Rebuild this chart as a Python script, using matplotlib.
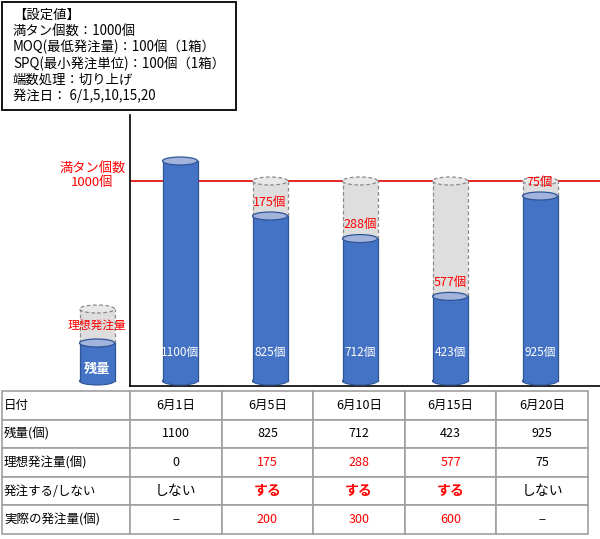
import numpy as np
import matplotlib
matplotlib.use("Agg")
import matplotlib.pyplot as plt
from matplotlib.patches import Rectangle, Ellipse

plt.rcParams['font.family'] = ['Noto Sans CJK JP', 'DejaVu Sans']

# ---- data ----
settings = ["【設定値】", "満タン個数：1000個", "MOQ(最低発注量)：100個（1箱）",
            "SPQ(最小発注単位)：100個（1箱）", "端数処理：切り上げ", "発注日： 6/1,5,10,15,20"]
dates = ["6月1日", "6月5日", "6月10日", "6月15日", "6月20日"]
stock = [1100, 825, 712, 423, 925]
ideal = [0, 175, 288, 577, 75]
order_flag = ["しない", "する", "する", "する", "しない"]
actual = ["−", "200", "300", "600", "−"]
row_labels = ["日付", "残量(個)", "理想発注量(個)", "発注する/しない", "実際の発注量(個)"]
FULL = 1000
legend_stock, legend_full = 190, 360   # schematic key cylinder

BLUE = "#4472C4"
BLUE_EDGE = "#2F5597"
BLUE_TOP = "#A2B4DC"
GRAY = "#DEDEDE"
GRAY_TOP = "#E8E8E8"
GRAY_EDGE = "#8A8A8A"
RED = "#FF0000"

W, H = 600, 539
fig = plt.figure(figsize=(W / 100, H / 100), dpi=100)


def px_axes(x, y, w, h):
    # axes placed by pixel box (top-left origin)
    return fig.add_axes([x / W, 1 - (y + h) / H, w / W, h / H])


# ---- settings box ----
fig.add_artist(Rectangle((2 / W, 1 - 110 / H), 234 / W, 108 / H, transform=fig.transFigure,
                         fill=False, edgecolor="black", linewidth=1.3))
for i, s in enumerate(settings):
    fig.text(13 / W, 1 - (15 + 16.2 * i) / H, s, fontsize=9.6, va="center", ha="left")

# ---- cylinder chart ----
ax = px_axes(130, 115, 470, 271)
ax.set_xlim(-50 / 90, 420 / 90)
ax.set_ylim(-25, 1330)
for sp in ["top", "right"]:
    ax.spines[sp].set_visible(False)
ax.spines["left"].set_linewidth(1.2)
ax.spines["bottom"].set_linewidth(1.2)
ax.set_xticks([])
ax.set_yticks([])
ax.patch.set_alpha(0)

cw = 35 / 90      # cylinder width (data units)
eh = 40           # ellipse height (data units)


def cylinder(x, y0, y1, face, edge, top, ls="-", z=3, bottom=True):
    ax.add_patch(Rectangle((x - cw / 2, y0), cw, y1 - y0, facecolor=face, edgecolor="none",
                           zorder=z, clip_on=False))
    if bottom:
        ax.add_patch(Ellipse((x, y0), cw, eh, facecolor=face, edgecolor=edge, linewidth=0.8,
                             zorder=z - 0.1, clip_on=False))
    ax.plot([x - cw / 2, x - cw / 2], [y0, y1], color=edge, lw=0.9, ls=ls, zorder=z + 0.1, clip_on=False)
    ax.plot([x + cw / 2, x + cw / 2], [y0, y1], color=edge, lw=0.9, ls=ls, zorder=z + 0.1, clip_on=False)
    ax.add_patch(Ellipse((x, y1), cw, eh, facecolor=top, edgecolor=edge, linewidth=0.9,
                         linestyle=ls, zorder=z + 0.2, clip_on=False))


xs = np.arange(len(stock))
for x, s, d in zip(xs, stock, ideal):
    if d > 0:
        cylinder(x, s, s + d, GRAY, GRAY_EDGE, GRAY_TOP, ls=(0, (3, 2)), z=2, bottom=False)
        ax.text(x, s + 70, f"{d}個", color=RED, fontsize=9, ha="center", va="center", zorder=6)
    cylinder(x, 0, s, BLUE, BLUE_EDGE, BLUE_TOP, z=3)
    ax.text(x, 145, f"{s}個", color="white", fontsize=8.5, ha="center", va="center", zorder=6)

ax.axhline(FULL, color="#E00000", lw=1.2, zorder=1, xmax=1.0)
ax.text(-0.975, FULL + 30, "満タン個数\n1000個", color=RED, fontsize=9.5, ha="center", va="center",
        linespacing=1.1, clip_on=False)

# schematic key
lx = -0.922
cylinder(lx, legend_stock, legend_full, GRAY, GRAY_EDGE, GRAY_TOP, ls=(0, (3, 2)), z=2, bottom=False)
cylinder(lx, 0, legend_stock, BLUE, BLUE_EDGE, BLUE_TOP, z=3)
ax.text(lx, 278, "理想発注量", color=RED, fontsize=8.5, ha="center", va="center", zorder=6, clip_on=False)
ax.text(lx, 62, "残量", color="white", fontsize=9.5, ha="center", va="center", zorder=6,
        fontweight="bold", clip_on=False)

# ---- table ----
tax = px_axes(2, 391, 586, 143)
tax.axis("off")
cells = [dates,
         [str(v) for v in stock],
         [str(v) for v in ideal],
         order_flag,
         actual]
cell_text = [[lab] + row for lab, row in zip(row_labels, cells)]
colw = [128] + [91.6] * 5
tbl = tax.table(cellText=cell_text, cellLoc="center", bbox=[0, 0, 1, 1],
                colWidths=[c / sum(colw) for c in colw])
tbl.auto_set_font_size(False)
tbl.set_fontsize(9)
for (r, c), cell in tbl.get_celld().items():
    cell.set_edgecolor("#A0A0A0")
    cell.set_linewidth(1.2)
    if c == 0:
        cell._loc = "left"
        cell.PAD = 0.015
        cell.get_text().set_ha("left")
    else:
        ordered = order_flag[c - 1] == "する"
        if r >= 2 and ordered:
            cell.get_text().set_color(RED)
        if r == 3:
            cell.get_text().set_fontsize(10)
            if ordered:
                cell.get_text().set_fontweight("bold")

fig.savefig("out.png", dpi=100)
